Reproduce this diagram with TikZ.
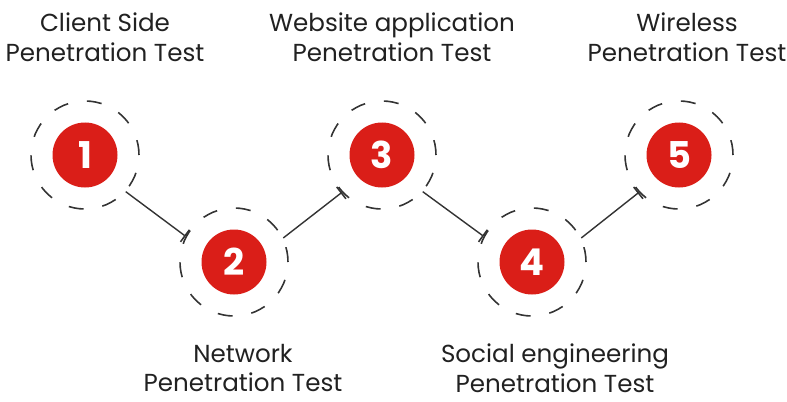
\documentclass[tikz,border=0pt]{standalone}
\usepackage{fontspec}
\setmainfont{Poppins}
\usepackage{tikz}
\usetikzlibrary{positioning}
\usetikzlibrary{arrows.meta}
\definecolor{PenRed}{RGB}{218,30,24}
\definecolor{LineGray}{RGB}{51,51,51}

\begin{document}
\begin{tikzpicture}[
    ring/.style={circle, draw=LineGray, line width=0.9pt, dash pattern=on 0.3cm off 0.38cm, minimum size=2.16cm, inner sep=0pt},
    disk/.style={circle, fill=PenRed, text=white, minimum size=1.3cm, inner sep=0pt, font=\fontsize{21}{21}\selectfont\bfseries},
    lbl/.style={align=center, text=black!87, font=\fontsize{14}{17}\selectfont},
    link/.style={LineGray, line width=0.8pt, -{Bar[width=0.3cm, line width=0.9pt]}}]
\useasboundingbox (0,0) rectangle (15.74,8.02);

\foreach \n / \x / \y in {1/1.70/4.92, 2/4.68/2.78, 3/7.64/4.92, 4/10.64/2.78, 5/13.58/4.92} {
  \node[ring] (r\n) at (\x,\y) {};
  \node[disk] (n\n) at (r\n) {\n};
}

\foreach \a / \b / \s / \e in {1/2/-42/152, 2/3/26/223, 3/4/-42/152, 4/5/26/223}
  \draw[link] (r\a.\s) -- (r\b.\e);

\node[lbl] at (2.10,7.28) (t1) {Client Side\\Penetration Test};
\node[lbl] at (4.86,0.66) (t2) {Network\\Penetration Test};
\node[lbl] at (7.84,7.28) (t3) {Website application\\Penetration Test};
\node[lbl] at (11.10,0.66) (t4) {Social engineering\\Penetration Test};
\node[lbl] at (13.74,7.28) (t5) {Wireless\\Penetration Test};
\end{tikzpicture}
\end{document}
